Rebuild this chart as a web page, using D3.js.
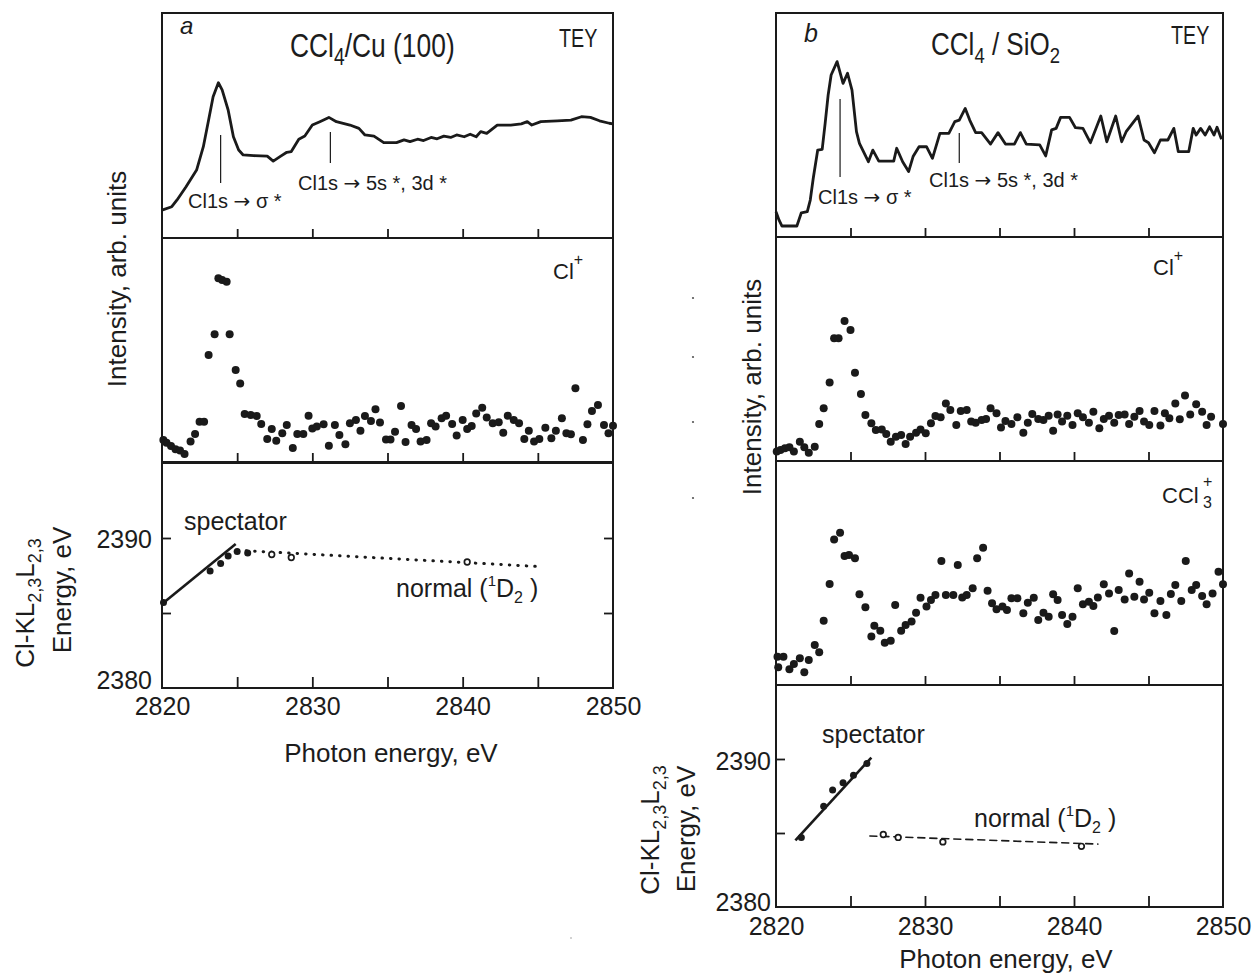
<!DOCTYPE html>
<html>
<head>
<meta charset="utf-8">
<script src="https://cdn.jsdelivr.net/npm/d3@7"></script>
<style>
body{margin:0;background:#fff}
svg{display:block}
text{font-family:"Liberation Sans",Arial,sans-serif;fill:#1c1c1c}
</style>
</head>
<body>
<svg width="1255" height="973"></svg>
<script>
// ---- data (eV, intensity in % of panel height) ----
var teyCu = [[2820.0,12.4],[2820.65,13.9],[2821.0,16.9],[2821.6,22.8],[2822.3,30.2],[2822.75,40.6],[2823.1,52.4],[2823.4,62.8],[2823.75,69.0],[2824.0,65.8],[2824.4,56.9],[2824.75,45.0],[2825.1,39.1],[2825.4,36.9],[2826.1,36.6],[2827.0,36.4],[2827.4,34.2],[2827.9,36.4],[2828.3,38.1],[2828.6,38.4],[2829.1,43.9],[2829.5,45.3],[2830.0,50.2],[2830.5,51.7],[2831.1,53.6],[2831.6,51.7],[2832.5,50.2],[2833.1,48.7],[2833.5,45.8],[2834.1,45.3],[2834.75,42.4],[2835.6,42.4],[2836.1,43.6],[2836.5,42.8],[2837.0,43.9],[2837.4,43.3],[2837.9,44.7],[2838.3,44.1],[2838.75,45.3],[2839.2,44.7],[2839.6,45.8],[2840.1,45.0],[2840.5,46.1],[2840.9,45.0],[2841.2,47.3],[2841.6,46.5],[2842.3,50.2],[2843.2,50.2],[2843.9,50.7],[2844.3,51.7],[2844.6,50.2],[2845.2,51.7],[2846.3,52.1],[2847.2,52.4],[2847.9,53.9],[2848.5,53.6],[2849.1,52.1],[2849.75,51.0],[2850.0,50.7]];

var clCu = [[2820.09,9.8],[2820.3,8.6],[2820.6,7.1],[2820.9,5.7],[2821.2,5.1],[2821.5,3.6],[2821.9,9.1],[2822.2,12.5],[2822.5,18.0],[2822.8,18.0],[2823.1,47.8],[2823.5,57.0],[2823.75,82.0],[2824.0,81.3],[2824.3,80.5],[2824.5,57.0],[2824.9,41.1],[2825.2,35.1],[2825.5,21.4],[2825.9,21.0],[2826.3,20.5],[2826.6,17.0],[2827.0,10.3],[2827.3,14.7],[2827.6,9.5],[2828.0,12.8],[2828.3,16.5],[2828.7,6.3],[2829.0,12.5],[2829.4,12.5],[2829.75,20.7],[2830.0,15.0],[2830.3,15.8],[2830.75,16.8],[2831.1,7.3],[2831.5,16.5],[2831.8,12.1],[2832.2,7.9],[2832.5,17.3],[2832.9,18.8],[2833.2,14.0],[2833.5,20.5],[2833.9,18.3],[2834.2,23.5],[2834.5,17.6],[2834.9,10.1],[2835.2,10.1],[2835.5,13.5],[2835.9,25.0],[2836.2,8.9],[2836.6,16.5],[2836.9,14.7],[2837.2,9.1],[2837.6,9.8],[2837.9,17.3],[2838.2,15.8],[2838.6,19.5],[2838.9,20.7],[2839.3,17.0],[2839.6,11.8],[2840.0,18.8],[2840.3,14.7],[2840.6,16.1],[2840.9,21.7],[2841.3,24.2],[2841.6,19.9],[2842.0,17.3],[2842.4,17.7],[2842.7,13.1],[2843.0,20.7],[2843.4,18.8],[2843.75,17.3],[2844.1,10.3],[2844.4,14.0],[2844.75,9.1],[2845.1,10.3],[2845.5,15.3],[2845.9,10.6],[2846.2,14.0],[2846.6,19.5],[2846.9,12.8],[2847.2,12.4],[2847.5,32.9],[2848.0,9.8],[2848.3,16.8],[2848.6,22.8],[2849.0,25.4],[2849.4,16.5],[2849.7,12.8],[2850.0,16.2]];

var teySi = [[2820.0,11.3],[2820.2,7.6],[2820.4,4.9],[2821.4,4.9],[2821.7,10.8],[2822.1,11.3],[2822.3,16.5],[2822.5,26.2],[2822.8,38.8],[2823.1,39.1],[2823.3,50.8],[2823.5,63.4],[2823.7,72.3],[2824.1,78.3],[2824.5,68.6],[2824.8,73.1],[2825.1,65.6],[2825.4,47.0],[2825.6,41.8],[2826.2,33.6],[2826.5,38.8],[2826.9,33.9],[2827.9,33.9],[2828.1,39.6],[2828.5,33.6],[2828.9,29.2],[2829.2,35.9],[2829.6,40.3],[2830.1,40.3],[2830.5,35.1],[2831.0,46.3],[2831.6,46.3],[2832.0,51.5],[2832.3,52.2],[2832.7,57.4],[2833.0,52.2],[2833.4,46.6],[2833.8,46.6],[2834.4,41.5],[2834.9,46.6],[2835.4,41.5],[2836.0,41.5],[2836.4,46.6],[2836.8,41.5],[2837.7,41.1],[2838.1,36.2],[2838.5,47.8],[2838.8,48.5],[2839.1,53.4],[2839.7,53.4],[2840.1,48.8],[2840.6,48.5],[2841.1,42.1],[2841.8,54.0],[2842.2,42.5],[2842.8,54.0],[2843.2,42.5],[2843.5,47.0],[2844.3,54.0],[2844.7,43.3],[2845.0,42.1],[2845.4,37.6],[2845.8,43.3],[2846.3,43.3],[2846.7,48.5],[2847.0,38.1],[2847.7,38.1],[2848.0,48.5],[2848.2,45.5],[2848.5,48.5],[2848.8,45.5],[2849.1,49.2],[2849.4,45.5],[2849.6,49.0],[2849.9,43.6]];

var clSi = [[2820.05,4.2],[2820.3,4.9],[2820.6,5.7],[2820.9,6.1],[2821.2,4.2],[2821.6,8.6],[2821.9,6.1],[2822.2,3.7],[2822.6,6.4],[2822.9,16.5],[2823.2,23.5],[2823.6,35.0],[2823.9,54.8],[2824.2,54.8],[2824.6,62.5],[2825.0,58.5],[2825.3,39.4],[2825.7,29.9],[2826.0,20.5],[2826.4,16.8],[2826.7,13.8],[2827.1,14.1],[2827.4,12.1],[2827.7,8.6],[2828.05,10.8],[2828.4,11.6],[2828.7,7.6],[2829.0,10.8],[2829.4,12.6],[2829.7,14.1],[2830.05,12.4],[2830.4,16.8],[2830.7,20.1],[2831.05,19.5],[2831.4,25.7],[2831.7,22.8],[2832.1,16.1],[2832.4,22.3],[2832.8,22.8],[2833.1,17.6],[2833.4,17.1],[2833.8,18.3],[2834.1,18.8],[2834.4,23.5],[2834.8,21.3],[2835.1,15.0],[2835.4,17.9],[2835.8,16.5],[2836.2,19.5],[2836.6,12.6],[2836.9,17.1],[2837.2,21.0],[2837.6,18.8],[2837.95,18.3],[2838.3,20.2],[2838.6,13.5],[2838.9,20.8],[2839.2,17.6],[2839.55,20.2],[2839.9,16.1],[2840.25,21.3],[2840.6,19.5],[2841.0,17.1],[2841.3,22.0],[2841.7,14.6],[2842.0,18.8],[2842.35,20.2],[2842.7,17.1],[2843.0,20.5],[2843.4,20.8],[2843.7,16.5],[2844.05,19.8],[2844.4,22.3],[2844.7,17.6],[2845.05,16.1],[2845.4,22.3],[2845.8,15.8],[2846.1,21.3],[2846.4,19.1],[2846.8,25.7],[2847.1,18.6],[2847.45,29.2],[2847.8,20.8],[2848.2,25.3],[2848.6,22.0],[2848.9,16.1],[2849.2,19.8],[2850.0,16.5]];

var ccl3Si = [[2820.1,12.6],[2820.15,7.9],[2820.5,12.6],[2820.9,7.0],[2821.2,9.4],[2821.6,11.9],[2821.9,5.7],[2822.2,11.2],[2822.6,17.9],[2822.9,14.6],[2823.2,28.7],[2823.6,45.1],[2823.9,65.0],[2824.3,68.0],[2824.6,57.6],[2824.9,58.0],[2825.3,56.6],[2825.6,40.5],[2826.0,34.7],[2826.4,21.6],[2826.6,26.5],[2827.0,24.2],[2827.3,18.9],[2827.7,19.8],[2828.0,35.7],[2828.4,24.2],[2828.7,26.8],[2829.1,28.3],[2829.4,32.3],[2829.7,39.0],[2830.1,35.0],[2830.4,37.9],[2830.7,40.2],[2831.1,55.4],[2831.4,40.2],[2831.9,40.2],[2832.2,53.6],[2832.5,39.1],[2832.8,40.2],[2833.2,43.2],[2833.5,56.6],[2833.9,61.3],[2834.2,42.1],[2834.5,36.5],[2834.8,33.8],[2835.2,35.0],[2835.5,33.5],[2835.8,38.7],[2836.2,38.7],[2836.6,32.0],[2836.9,36.7],[2837.3,39.0],[2837.6,29.0],[2837.95,32.3],[2838.3,30.5],[2838.6,40.5],[2838.9,37.9],[2839.2,31.3],[2839.55,27.2],[2839.9,30.5],[2840.25,43.2],[2840.6,36.0],[2841.0,37.2],[2841.3,35.3],[2841.6,39.1],[2842.0,45.0],[2842.35,40.9],[2842.7,24.1],[2843.0,42.4],[2843.4,38.2],[2843.7,49.8],[2844.05,39.4],[2844.4,46.1],[2844.7,38.2],[2845.05,41.2],[2845.4,32.0],[2845.8,37.5],[2846.2,31.3],[2846.5,40.6],[2846.8,44.6],[2847.2,37.5],[2847.5,55.4],[2847.9,42.4],[2848.2,44.6],[2848.6,39.7],[2848.9,36.0],[2849.3,40.9],[2849.7,50.6],[2850.0,45.0]];

// Auger energy panels
var specCuDots = [[2820.1,2385.7],[2823.2,2387.8],[2823.9,2388.3],[2824.4,2388.8],[2825.0,2389.1],[2825.7,2389.0]];
var specCuFit = [[2820.0,2385.6],[2824.9,2389.6]];
var normCuOpen = [[2827.3,2388.9],[2828.6,2388.7],[2840.3,2388.4]];
var normCuFit = [[2825.6,2389.15],[2845.0,2388.1]];

var specSiDots = [[2821.7,2384.7],[2823.2,2386.8],[2823.8,2387.9],[2824.5,2388.4],[2825.2,2388.9],[2826.1,2389.7]];
var specSiFit = [[2821.3,2384.5],[2826.4,2390.1]];
var normSiOpen = [[2827.2,2384.9],[2828.2,2384.7],[2831.2,2384.4],[2840.5,2384.1]];
var normSiFit = [[2826.3,2384.8],[2841.6,2384.25]];

var minorTicks = [2825,2830,2835,2840,2845];
var xLabels = [2820,2830,2840,2850];
var eTicks = [2385,2390];

var svg = d3.select("svg");
var ink = "#1a1a1a";

// ---- layout ----
var xA = d3.scaleLinear().domain([2820,2850]).range([162,613]);
var xB = d3.scaleLinear().domain([2820,2850]).range([776,1223]);
var rowsA = [[13,238],[238,462],[463,688]];
var rowsB = [[13,237],[237,461],[461,685],[685,907]];

function yPanel(row){ return d3.scaleLinear().domain([0,100]).range([row[1],row[0]]); }
function yEnergy(row){ return d3.scaleLinear().domain([2380,2395]).range([row[1],row[0]]); }

function frame(x, row){
  svg.append("rect")
    .attr("x", x.range()[0]).attr("y", row[0])
    .attr("width", x.range()[1]-x.range()[0]).attr("height", row[1]-row[0])
    .attr("fill","none").attr("stroke",ink).attr("stroke-width",2);
}

function innerTicks(x, row, len){
  var g = svg.append("g").attr("transform","translate(0,"+row[1]+")")
    .call(d3.axisBottom(x).tickValues(minorTicks).tickSize(-len).tickFormat(""));
  g.select(".domain").remove();
  g.selectAll("line").attr("stroke",ink).attr("stroke-width",1.8);
}

function curve(x, y, pts){
  svg.append("path")
    .datum(pts)
    .attr("d", d3.line().x(function(d){return x(d[0]);}).y(function(d){return y(d[1]);}))
    .attr("fill","none").attr("stroke",ink).attr("stroke-width",2.8).attr("stroke-linejoin","round");
}

function dots(x, y, pts, r){
  svg.append("g").selectAll("circle").data(pts).enter().append("circle")
    .attr("cx", function(d){return x(d[0]);})
    .attr("cy", function(d){return y(d[1]);})
    .attr("r", r||4).attr("fill",ink);
}

function openDots(x, y, pts){
  svg.append("g").selectAll("circle").data(pts).enter().append("circle")
    .attr("cx", function(d){return x(d[0]);})
    .attr("cy", function(d){return y(d[1]);})
    .attr("r", 2.8).attr("fill","#fff").attr("stroke",ink).attr("stroke-width",1.7);
}

function fitLine(x, y, pts, dash, w){
  svg.append("path").datum(pts)
    .attr("d", d3.line().x(function(d){return x(d[0]);}).y(function(d){return y(d[1]);}))
    .attr("fill","none").attr("stroke",ink).attr("stroke-width",w)
    .attr("stroke-dasharray",dash).attr("stroke-linecap", dash ? "round" : "butt");
}

function mark(x, eV, y0, y1){
  svg.append("line").attr("x1",x(eV)).attr("x2",x(eV)).attr("y1",y0).attr("y2",y1)
    .attr("stroke",ink).attr("stroke-width",1.2);
}

function label(x, y, size, parts, sx){
  // parts: plain strings or [text, dy, size, family] pieces for sub/superscripts
  var t = svg.append("text")
    .attr("transform","translate("+x+","+y+") scale("+(sx||1)+",1)")
    .attr("font-size", size);
  parts.forEach(function(p){
    if (typeof p === "string") t.append("tspan").text(p);
    else {
      var s = t.append("tspan").attr("dy",p[1]).attr("font-size",p[2]).text(p[0]);
      if (p[3]) s.attr("font-family",p[3]);
    }
  });
  return t;
}

function vlabel(x, y, size, parts){
  var t = svg.append("text")
    .attr("transform","translate("+x+","+y+") rotate(-90)")
    .attr("text-anchor","middle").attr("font-size",size);
  parts.forEach(function(p){
    if (typeof p === "string") t.append("tspan").text(p);
    else t.append("tspan").attr("dy",p[1]).attr("font-size",p[2]).text(p[0]);
  });
}

var arrowFont = "DejaVu Sans, sans-serif";
function transition(x, y, tail){
  label(x, y, 20, ["Cl1s ", ["\u2192",0,20,arrowFont], [" "+tail,0,20]]);
}

// ================= panel a =================
var yA0 = yPanel(rowsA[0]), yA1 = yPanel(rowsA[1]), yA2 = yEnergy(rowsA[2]);

curve(xA, yA0, teyCu);
mark(xA, 2823.9, 135, 183);
mark(xA, 2831.2, 132, 163);
dots(xA, yA1, clCu);

fitLine(xA, yA2, specCuFit, null, 2.6);
fitLine(xA, yA2, normCuFit, "0.5,8", 3);
dots(xA, yA2, specCuDots, 3.5);
openDots(xA, yA2, normCuOpen);

rowsA.forEach(function(r){ frame(xA, r); });
innerTicks(xA, rowsA[0], 9);
innerTicks(xA, rowsA[1], 9);
innerTicks(xA, rowsA[2], 11);

// energy axis ticks, left and right
var gl = svg.append("g").attr("transform","translate(162,0)")
  .call(d3.axisLeft(yA2).tickValues(eTicks).tickSize(-9).tickFormat(""));
gl.select(".domain").remove();
gl.selectAll("line").attr("stroke",ink).attr("stroke-width",1.8);
var gr = svg.append("g").attr("transform","translate(613,0)")
  .call(d3.axisRight(yA2).tickValues(eTicks).tickSize(-9).tickFormat(""));
gr.select(".domain").remove();
gr.selectAll("line").attr("stroke",ink).attr("stroke-width",1.8);

// tick labels
var bxA = svg.append("g").attr("transform","translate(0,688)")
  .call(d3.axisBottom(xA).tickValues(xLabels).tickSize(0).tickPadding(9).tickFormat(d3.format("d")));
bxA.select(".domain").remove();
bxA.selectAll("text").attr("font-size",25).attr("font-family","Liberation Sans, Arial, sans-serif").attr("fill",ink);
svg.append("text").attr("x",152).attr("y",548).attr("text-anchor","end").attr("font-size",25).text("2390");
svg.append("text").attr("x",152).attr("y",689).attr("text-anchor","end").attr("font-size",25).text("2380");

svg.append("text").attr("x",391).attr("y",762).attr("text-anchor","middle").attr("font-size",26).text("Photon energy, eV");
vlabel(126, 279, 26, ["Intensity, arb. units"]);
vlabel(34, 603, 26, ["Cl-KL", ["2,3",7,18], ["L",-7,26], ["2,3",7,18]]);
vlabel(71, 590, 26, ["Energy, eV"]);

svg.append("text").attr("x",180).attr("y",34).attr("font-size",24)
  .attr("font-family","Liberation Serif, serif").attr("font-style","italic").text("a");
label(290, 57, 33, ["CCl", ["4",8,24], ["/Cu (100)",-8,33]], 0.8);
label(559, 47, 26, ["TEY"], 0.76);
transition(188, 208, "\u03c3 *");
transition(298, 190, "5s *, 3d *");
label(553, 279, 22, ["Cl", ["+",-14,16]]);
label(184, 530, 25, ["spectator"]);
label(396, 597, 25, ["normal  (", ["1",-11,15], ["D",11,25], ["2",6,16], [" )",-6,25]]);

// ================= panel b =================
var yB0 = yPanel(rowsB[0]), yB1 = yPanel(rowsB[1]), yB2 = yPanel(rowsB[2]), yB3 = yEnergy(rowsB[3]);

curve(xB, yB0, teySi);
mark(xB, 2824.3, 99, 177);
mark(xB, 2832.3, 133, 163);
dots(xB, yB1, clSi);
dots(xB, yB2, ccl3Si);

fitLine(xB, yB3, specSiFit, null, 2.6);
fitLine(xB, yB3, normSiFit, "7,5", 1.6);
dots(xB, yB3, specSiDots, 3.5);
openDots(xB, yB3, normSiOpen);

rowsB.forEach(function(r){ frame(xB, r); });
innerTicks(xB, rowsB[0], 9);
innerTicks(xB, rowsB[1], 9);
innerTicks(xB, rowsB[2], 9);
innerTicks(xB, rowsB[3], 11);

var glB = svg.append("g").attr("transform","translate(776,0)")
  .call(d3.axisLeft(yB3).tickValues(eTicks).tickSize(-9).tickFormat(""));
glB.select(".domain").remove();
glB.selectAll("line").attr("stroke",ink).attr("stroke-width",1.8);

var bxB = svg.append("g").attr("transform","translate(0,907)")
  .call(d3.axisBottom(xB).tickValues(xLabels).tickSize(0).tickPadding(10).tickFormat(d3.format("d")));
bxB.select(".domain").remove();
bxB.selectAll("text").attr("font-size",25).attr("font-family","Liberation Sans, Arial, sans-serif").attr("fill",ink);
svg.append("text").attr("x",771).attr("y",770).attr("text-anchor","end").attr("font-size",25).text("2390");
svg.append("text").attr("x",771).attr("y",911).attr("text-anchor","end").attr("font-size",25).text("2380");

svg.append("text").attr("x",1006).attr("y",968).attr("text-anchor","middle").attr("font-size",26).text("Photon energy, eV");
vlabel(761, 387, 26, ["Intensity, arb. units"]);
vlabel(659, 830, 26, ["Cl-KL", ["2,3",7,18], ["L",-7,26], ["2,3",7,18]]);
vlabel(695, 829, 26, ["Energy, eV"]);

svg.append("text").attr("x",804).attr("y",42).attr("font-size",25)
  .attr("font-family","Liberation Serif, serif").attr("font-style","italic").text("b");
label(931, 55, 31, ["CCl", ["4",8,22], [" / SiO",-8,31], ["2",8,22]], 0.84);
label(1171, 44, 26, ["TEY"], 0.76);
transition(818, 204, "\u03c3 *");
transition(929, 187, "5s *, 3d *");
label(1153, 275, 22, ["Cl", ["+",-14,16]]);
label(1162, 503, 22, ["CCl"]);
svg.append("text").attr("x",1203).attr("y",487).attr("font-size",16).text("+");
svg.append("text").attr("x",1203).attr("y",508).attr("font-size",16).text("3");
label(822, 743, 25, ["spectator"]);
label(974, 827, 25, ["normal  (", ["1",-11,15], ["D",11,25], ["2",6,16], [" )",-6,25]]);

// stray specks in the scan
[298,357,422,498].forEach(function(yy){
  svg.append("circle").attr("cx",693).attr("cy",yy).attr("r",1.1).attr("fill","#555");
});
svg.append("circle").attr("cx",571).attr("cy",938).attr("r",0.8).attr("fill","#999");
</script>
</body>
</html>
